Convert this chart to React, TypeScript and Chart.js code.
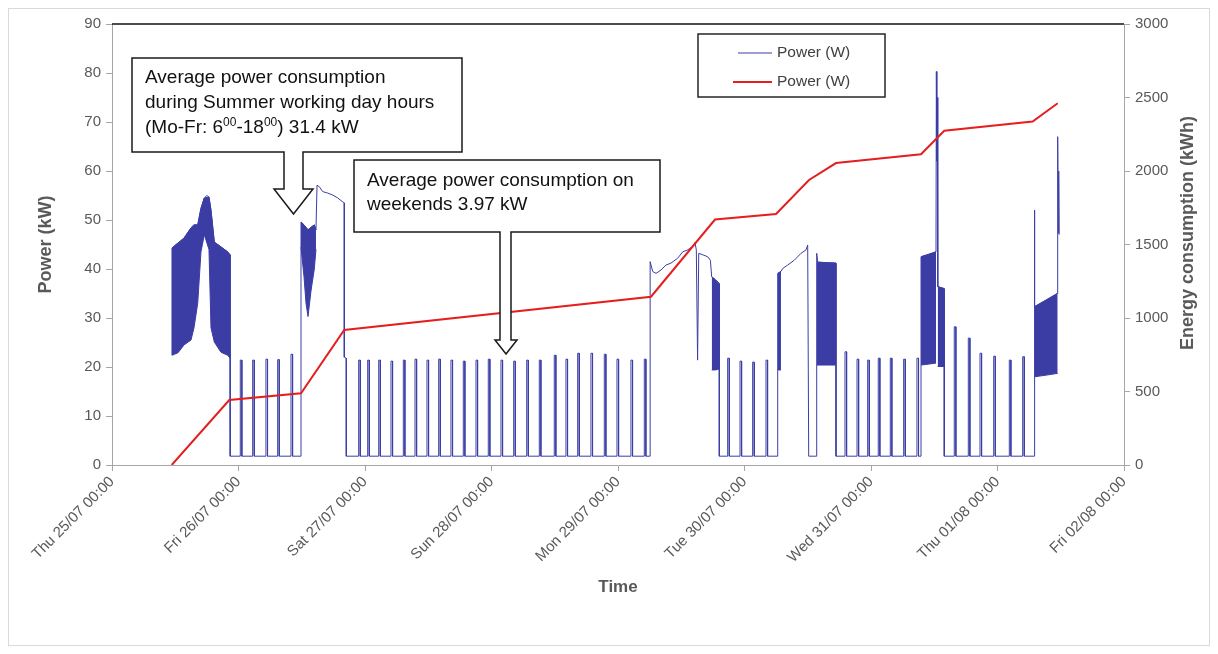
import React, { useEffect, useRef } from "react";
import { Chart, registerables } from "chart.js";

Chart.register(...registerables);

// ---------- data (hours since Thu 25/07 00:00) ----------
const dayLabels = [
  "Thu 25/07 00:00",
  "Fri 26/07 00:00",
  "Sat 27/07 00:00",
  "Sun 28/07 00:00",
  "Mon 29/07 00:00",
  "Tue 30/07 00:00",
  "Wed 31/07 00:00",
  "Thu 01/08 00:00",
  "Fri 02/08 00:00",
];

// main power trace (kW)
const traceHours = [
  11.38, 11.38, 12.52, 13.66, 14.99, 15.56, 16.26, 16.88, 17.51, 18.0, 18.4, 18.78, 19.41, 20.68, 21.95, 22.39, 22.39, 22.45,
  35.86, 35.86, 36.43, 36.81, 37.19, 37.75, 38.38, 38.7, 38.9, 39.33, 39.97, 40.92, 41.87, 42.82, 43.77, 44.07, 44.07, 44.45, 44.45,
  102.1, 102.1, 102.58, 103.21, 104.16, 105.1, 106.05, 107.32, 108.27, 109.22, 110.17, 110.61, 110.86, 111.1, 111.32, 112.08, 113.02, 113.52, 113.78, 114.5, 115.22, 115.22,
  126.3, 126.3, 126.92, 127.24, 128.19, 129.45, 130.72, 131.67, 131.99, 132.18, 133.7, 133.7, 133.9, 135.5, 137.36, 137.36,
  153.49, 153.49, 156.33, 156.4, 156.5, 156.58, 156.65, 156.7, 157.9, 157.9,
  174.98, 174.98, 175.1, 179.3, 179.42, 179.55, 179.62, 179.7,
];
const traceKW = [
  22.4, 44.3, 45.3, 46.3, 48.4, 49.0, 49.0, 52.4, 54.5, 55.0, 54.7, 52.0, 45.5, 44.5, 43.5, 42.9, 21.8, 1.8,
  1.8, 49.6, 49.0, 48.5, 48.0, 48.5, 49.0, 48.0, 57.1, 56.8, 55.8, 55.5, 55.1, 54.5, 53.7, 53.5, 22.0, 21.8, 1.8,
  1.8, 41.5, 39.5, 39.1, 39.8, 40.8, 41.2, 42.2, 43.5, 43.9, 44.6, 45.4, 43.9, 21.4, 43.2, 42.9, 42.5, 41.8, 38.4, 37.8, 37.0, 1.8,
  1.8, 39.1, 39.5, 40.1, 40.8, 41.8, 43.2, 43.9, 44.9, 1.8, 1.8, 43.2, 41.4, 41.3, 41.2, 1.8,
  1.8, 42.5, 43.5, 80.3, 62.0, 75.0, 46.6, 36.4, 36.0, 1.8,
  1.8, 52.0, 32.3, 35.0, 67.0, 47.3, 60.0, 47.0,
];

// standby level and short night-time pulses
const standbyKW = 1.8;
const spikeHours = [
  24.34, 26.69, 29.21, 31.43, 33.96,
  46.8, 48.51, 50.6, 52.93, 55.27, 57.49, 59.76, 61.98, 64.31, 66.65, 69.06, 71.39, 73.8, 76.21, 78.68, 81.07, 83.91, 86.13, 88.35, 90.87, 93.4, 95.81, 98.46, 100.99,
  116.81, 119.15, 121.55, 124.08,
  139.07, 141.35, 143.37, 145.38, 147.66, 150.2, 152.72,
  159.8, 162.46, 164.68, 167.28, 170.24, 172.78,
];
const spikeKW = [
  21.4, 21.4, 21.6, 21.5, 22.6,
  21.4, 21.4, 21.4, 21.2, 21.4, 21.6, 21.4, 21.6, 21.4, 21.2, 21.4, 21.6, 21.4, 21.2, 21.4, 21.4, 22.4, 21.6, 22.8, 22.8, 22.6, 21.6, 21.4, 21.6,
  21.8, 21.2, 21.0, 21.4,
  23.1, 21.6, 21.4, 21.8, 21.8, 21.6, 21.8,
  28.2, 25.9, 22.8, 22.2, 21.4, 22.1,
];

// densely oscillating periods: upper / lower envelope
const bandHours = [
  [11.38, 12.52, 13.66, 14.99, 15.56, 16.26, 16.88, 17.51, 18.4, 18.78, 19.41, 20.68, 21.95, 22.39],
  [35.86, 36.43, 36.81, 37.19, 37.75, 38.38, 38.7],
  [113.78, 114.5, 115.22],
  [126.3, 126.92],
  [133.7, 135.5, 137.36],
  [153.49, 155.0, 156.33],
  [156.65, 157.9],
  [174.98, 177.0, 179.42],
];
const bandTopKW = [
  [44.3, 45.3, 46.3, 48.4, 49.0, 49.0, 52.4, 54.5, 54.7, 52.0, 45.5, 44.5, 43.5, 42.9],
  [49.6, 49.0, 48.5, 48.0, 48.5, 49.0, 48.0],
  [38.4, 37.8, 37.0],
  [39.1, 39.5],
  [41.4, 41.3, 41.2],
  [42.5, 43.0, 43.5],
  [36.4, 36.0],
  [32.3, 33.5, 35.0],
];
const bandBottomKW = [
  [22.4, 22.9, 24.5, 25.5, 28.0, 33.0, 43.5, 47.0, 44.0, 28.0, 25.1, 23.0, 22.4, 21.8],
  [44.5, 38.4, 33.0, 30.3, 35.5, 40.0, 44.0],
  [19.4, 19.4, 19.6],
  [19.4, 19.4],
  [20.4, 20.4, 20.4],
  [20.4, 20.6, 20.8],
  [20.1, 20.1],
  [18.0, 18.3, 18.7],
];

// cumulative energy (kWh)
const energyHours = [11.33, 22.25, 35.86, 44.06, 102.26, 114.4, 125.98, 132.24, 137.36, 153.49, 157.9, 174.67, 179.42];
const energyKWh = [0, 442, 488, 918, 1145, 1670, 1708, 1939, 2054, 2114, 2274, 2336, 2461];

const legendLabels = ["Power (W)", "Power (W)"];
const callout1Text = ["Average power consumption", "during Summer working day hours"];
const callout1Last = [
  { t: "(Mo-Fr: 6", sup: false },
  { t: "00", sup: true },
  { t: "-18", sup: false },
  { t: "00", sup: true },
  { t: ") 31.4 kW", sup: false },
];
const callout2Text = ["Average power consumption on", "weekends 3.97 kW"];

// ---------- styling ----------
const FONT = '"Liberation Sans", Arial, Helvetica, sans-serif';
const BLUE = "#3B3DA5";
const RED = "#E51E1E";
const AXIS = "#A6A6A6";
const TEXT = "#595959";
const PULSE_W = 0.3;

function buildPowerPoints() {
  const pts: { x: number; y: number }[] = traceHours.map((h, i) => ({ x: h, y: traceKW[i] }));
  spikeHours.forEach((h, i) => {
    pts.push({ x: h, y: standbyKW });
    pts.push({ x: h, y: spikeKW[i] });
    pts.push({ x: h + PULSE_W, y: spikeKW[i] });
    pts.push({ x: h + PULSE_W, y: standbyKW });
  });
  return pts
    .map((p, i) => ({ p, i }))
    .sort((a, b) => a.p.x - b.p.x || a.i - b.i)
    .map((o) => o.p);
}

function drawCallout(
  ctx: CanvasRenderingContext2D,
  box: number[],
  shaft: number[],
  head: number[],
  tip: number[]
) {
  const [l, t, r, b] = box;
  const [sl, sr, sy] = shaft;
  const [hl, hr] = head;
  ctx.beginPath();
  ctx.moveTo(l, t);
  ctx.lineTo(r, t);
  ctx.lineTo(r, b);
  ctx.lineTo(sr, b);
  ctx.lineTo(sr, sy);
  ctx.lineTo(hr, sy);
  ctx.lineTo(tip[0], tip[1]);
  ctx.lineTo(hl, sy);
  ctx.lineTo(sl, sy);
  ctx.lineTo(sl, b);
  ctx.lineTo(l, b);
  ctx.closePath();
  ctx.fillStyle = "#ffffff";
  ctx.fill();
  ctx.strokeStyle = "#1a1a1a";
  ctx.lineWidth = 1.5;
  ctx.stroke();
}

const overlayPlugin = {
  id: "overlay",
  afterDraw(chart: any) {
    const ctx: CanvasRenderingContext2D = chart.ctx;
    const { left, right, top } = chart.chartArea;
    ctx.save();

    // top border of plot area
    ctx.strokeStyle = "#111111";
    ctx.lineWidth = 1.5;
    ctx.beginPath();
    ctx.moveTo(left, top);
    ctx.lineTo(right, top);
    ctx.stroke();

    // callout 1
    drawCallout(ctx, [123, 49, 453, 143], [275, 294, 180], [265, 304], [284.5, 205]);
    ctx.fillStyle = "#111111";
    ctx.textAlign = "left";
    ctx.textBaseline = "alphabetic";
    ctx.font = `19px ${FONT}`;
    ctx.fillText(callout1Text[0], 136, 74);
    ctx.fillText(callout1Text[1], 136, 99);
    let x = 136;
    for (const run of callout1Last) {
      ctx.font = run.sup ? `12px ${FONT}` : `19px ${FONT}`;
      ctx.fillText(run.t, x, run.sup ? 117 : 124);
      x += ctx.measureText(run.t).width;
    }

    // callout 2
    drawCallout(ctx, [345, 151, 651, 223], [491, 502, 331], [486, 508], [497, 345]);
    ctx.fillStyle = "#111111";
    ctx.font = `19px ${FONT}`;
    ctx.fillText(callout2Text[0], 358, 177);
    ctx.fillText(callout2Text[1], 358, 201);

    // legend
    ctx.fillStyle = "#ffffff";
    ctx.fillRect(689, 25, 187, 63);
    ctx.strokeStyle = "#262626";
    ctx.lineWidth = 1.5;
    ctx.strokeRect(689, 25, 187, 63);
    ctx.strokeStyle = BLUE;
    ctx.lineWidth = 1;
    ctx.beginPath();
    ctx.moveTo(729, 44);
    ctx.lineTo(763, 44);
    ctx.stroke();
    ctx.strokeStyle = RED;
    ctx.lineWidth = 2;
    ctx.beginPath();
    ctx.moveTo(724, 73);
    ctx.lineTo(763, 73);
    ctx.stroke();
    ctx.fillStyle = "#404040";
    ctx.font = `15.5px ${FONT}`;
    ctx.textBaseline = "middle";
    ctx.fillText(legendLabels[0], 768, 44);
    ctx.fillText(legendLabels[1], 768, 73);

    // right axis title (reads bottom to top)
    ctx.translate(1179, 224);
    ctx.rotate(-Math.PI / 2);
    ctx.textAlign = "center";
    ctx.textBaseline = "middle";
    ctx.fillStyle = TEXT;
    ctx.font = `bold 18px ${FONT}`;
    ctx.fillText("Energy consumption (kWh)", 0, 0);
    ctx.restore();
  },
};

export default function App() {
  const ref = useRef<HTMLCanvasElement>(null);

  useEffect(() => {
    if (!ref.current) return;
    Chart.defaults.font.family = FONT;
    Chart.defaults.color = TEXT;

    const datasets: any[] = [
      {
        label: legendLabels[1],
        data: energyHours.map((h, i) => ({ x: h, y: energyKWh[i] })),
        borderColor: RED,
        backgroundColor: RED,
        borderWidth: 2,
        pointRadius: 0,
        tension: 0,
        fill: false,
        yAxisID: "y1",
      },
      {
        label: legendLabels[0],
        data: buildPowerPoints(),
        borderColor: BLUE,
        backgroundColor: BLUE,
        borderWidth: 1,
        pointRadius: 0,
        tension: 0,
        fill: false,
        yAxisID: "y",
      },
    ];
    bandHours.forEach((hours, b) => {
      datasets.push({
        label: "band-top",
        data: hours.map((h, i) => ({ x: h, y: bandTopKW[b][i] })),
        borderColor: BLUE,
        backgroundColor: BLUE,
        borderWidth: 1,
        pointRadius: 0,
        tension: 0,
        fill: "+1",
        yAxisID: "y",
      });
      datasets.push({
        label: "band-bottom",
        data: hours.map((h, i) => ({ x: h, y: bandBottomKW[b][i] })),
        borderColor: BLUE,
        backgroundColor: BLUE,
        borderWidth: 1,
        pointRadius: 0,
        tension: 0,
        fill: false,
        yAxisID: "y",
      });
    });

    const tickFont = { family: FONT, size: 15 };
    const titleFont = { family: FONT, size: 18, weight: "bold" as const };

    const chart = new Chart(ref.current, {
      type: "line",
      data: { datasets },
      plugins: [overlayPlugin],
      options: {
        animation: false,
        responsive: false,
        maintainAspectRatio: false,
        layout: { padding: { top: 15, left: 0, right: 0, bottom: 0 } },
        plugins: {
          legend: { display: false },
          tooltip: { enabled: false },
        },
        scales: {
          x: {
            type: "linear",
            min: 0,
            max: 192,
            afterFit: (s: any) => {
              s.height = 180;
            },
            ticks: {
              stepSize: 24,
              autoSkip: false,
              minRotation: 45,
              maxRotation: 45,
              color: TEXT,
              font: tickFont,
              padding: 2,
              callback: (v: any) => dayLabels[Math.round(Number(v) / 24)] ?? "",
            },
            grid: { drawOnChartArea: false, drawTicks: true, tickLength: 6, color: AXIS },
            border: { color: AXIS, width: 1 },
            title: {
              display: true,
              text: "Time",
              color: TEXT,
              font: { family: FONT, size: 17, weight: "bold" as const },
              padding: { top: 0, bottom: 47 },
            },
          },
          y: {
            type: "linear",
            position: "left",
            min: 0,
            max: 90,
            afterFit: (s: any) => {
              s.width = 103;
            },
            ticks: { stepSize: 10, color: TEXT, font: tickFont, padding: 5, callback: (v: any) => String(v) },
            grid: { drawOnChartArea: false, drawTicks: true, tickLength: 6, color: AXIS },
            border: { color: AXIS, width: 1 },
            title: {
              display: true,
              text: "Power (kW)",
              color: TEXT,
              font: titleFont,
              padding: { top: 26, bottom: 0 },
            },
          },
          y1: {
            type: "linear",
            position: "right",
            min: 0,
            max: 3000,
            afterFit: (s: any) => {
              s.width = 85;
            },
            ticks: { stepSize: 500, color: TEXT, font: tickFont, padding: 5, callback: (v: any) => String(v) },
            grid: { drawOnChartArea: false, drawTicks: true, tickLength: 6, color: AXIS },
            border: { color: AXIS, width: 1 },
          },
        },
      },
    });
    return () => chart.destroy();
  }, []);

  return (
    <div style={{ width: 1200, height: 636, border: "1px solid #D9D9D9", background: "#ffffff" }}>
      <canvas ref={ref} width={1200} height={636} style={{ display: "block" }} />
    </div>
  );
}
